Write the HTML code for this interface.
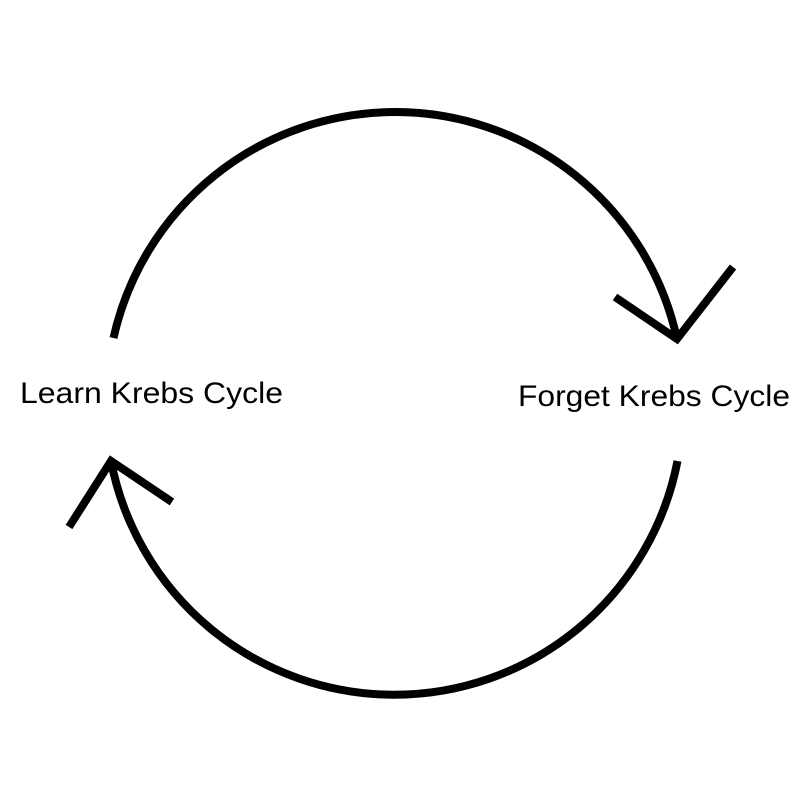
<!DOCTYPE html>
<html>
<head>
<meta charset="utf-8">
<style>
  html, body { margin: 0; padding: 0; background: #ffffff; }
  svg { display: block; }
</style>
</head>
<body>
<svg width="800" height="800" viewBox="0 0 800 800" xmlns="http://www.w3.org/2000/svg">
  <rect width="800" height="800" fill="#ffffff"/>
  <g fill="none" stroke="#000" stroke-width="8">
    <!-- top arc: from left end up over to right arrow tip -->
    <path d="M 113.5 338 A 288.5 288.5 0 0 1 677 339"/>
    <!-- right arrowhead -->
    <polyline points="615,297 677,339 733,267" stroke-linejoin="miter"/>
    <!-- bottom arc: from right end down under to left arrow tip -->
    <path d="M 677.5 461 A 288.5 288.5 0 0 1 111 461"/>
    <!-- left arrowhead -->
    <polyline points="69,527 111,461 172,502" stroke-linejoin="miter"/>
  </g>
  <g font-family="'Liberation Sans', 'DejaVu Sans', sans-serif" font-size="29.5" fill="#000">
    <text x="20" y="403" textLength="263" lengthAdjust="spacingAndGlyphs">Learn Krebs Cycle</text>
    <text x="518" y="406" textLength="272" lengthAdjust="spacingAndGlyphs">Forget Krebs Cycle</text>
  </g>
</svg>
</body>
</html>
